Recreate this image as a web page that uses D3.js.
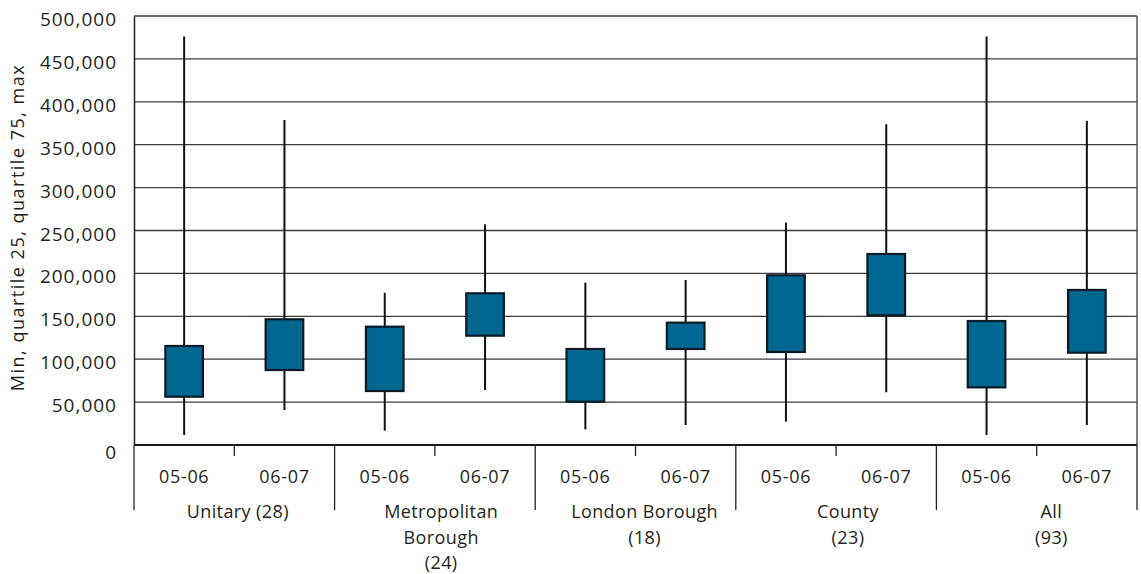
<!DOCTYPE html>
<html>
<head>
<meta charset="utf-8">
<script src="https://cdn.jsdelivr.net/npm/d3@7"></script>
<style>
  html, body { margin: 0; padding: 0; background: #fff; }
  svg { display: block; }
  text { font-family: "Open Sans", "Noto Sans", sans-serif; fill: #231f20; }
</style>
</head>
<body>
<svg id="chart" width="1141" height="574"></svg>
<script>
// ---- data ----
const groups = [["Unitary (28)"], ["Metropolitan", "Borough", "(24)"], ["London Borough", "(18)"], ["County", "(23)"], ["All", "(93)"]];
const years = ["05-06", "06-07"];
const minVals = [11700, 40800, 16700, 64100, 18300, 23300, 27200, 61400, 11700, 23300];
const q25Vals = [56300, 87400, 62900, 127400, 50500, 111900, 108400, 151200, 67200, 107600];
const q75Vals = [115400, 146500, 137900, 176800, 111900, 142600, 197800, 222600, 144500, 180700];
const maxVals = [476000, 378800, 177500, 257200, 189200, 192300, 259100, 373800, 476000, 378000];
const yTicks = [0, 50000, 100000, 150000, 200000, 250000, 300000, 350000, 400000, 450000, 500000];
const yTitle = "Min, quartile 25, quartile 75, max";

// ---- layout ----
const L = 134, R = 1137, T = 16, B = 445;
const svg = d3.select("#chart");

const keys = [];
groups.forEach((g, gi) => years.forEach((yr, yi) => keys.push(gi + "|" + yr)));
const rows = keys.map((k, i) => ({ key: k, g: +k.split("|")[0], year: k.split("|")[1],
  min: minVals[i], q25: q25Vals[i], q75: q75Vals[i], max: maxVals[i] }));

const x = d3.scaleBand().domain(keys).range([L, R]).paddingInner(0).paddingOuter(0);
const xg = d3.scaleBand().domain(groups.map((g, i) => i)).range([L, R]);
const y = d3.scaleLinear().domain([0, 500000]).range([B, T]);

// gridlines
svg.append("g").selectAll("line").data(yTicks.filter(v => v > 0)).join("line")
  .attr("x1", L).attr("x2", R)
  .attr("y1", d => y(d)).attr("y2", d => y(d))
  .attr("stroke", "#3c3c3c").attr("stroke-width", 1.3);

// right border
svg.append("line").attr("x1", R).attr("x2", R).attr("y1", T).attr("y2", B)
  .attr("stroke", "#3c3c3c").attr("stroke-width", 1.3);

// y axis
const yAxis = d3.axisLeft(y).tickValues(yTicks).tickSize(0).tickPadding(17)
  .tickFormat(d3.format(","));
const gy = svg.append("g").attr("transform", `translate(${L},0)`).call(yAxis);
gy.select(".domain").attr("stroke", "#231f20").attr("stroke-width", 1.5);
gy.selectAll("text").attr("font-size", 19).attr("letter-spacing", 1)
  .attr("font-family", '"Open Sans", sans-serif').attr("fill", "#231f20")
  .attr("dy", d => d === 0 ? "0.72em" : "0.5em");

// y title
svg.append("text")
  .attr("transform", `translate(24,${(62 + 393) / 2}) rotate(-90)`)
  .attr("text-anchor", "middle")
  .attr("font-size", 18).attr("letter-spacing", 1.5)
  .text(yTitle);

// whiskers
svg.append("g").selectAll("line").data(rows).join("line")
  .attr("x1", d => x(d.key) + x.bandwidth() / 2)
  .attr("x2", d => x(d.key) + x.bandwidth() / 2)
  .attr("y1", d => y(d.min)).attr("y2", d => y(d.max))
  .attr("stroke", "#111").attr("stroke-width", 2);

// boxes
const bw = x.bandwidth() * 0.375;
svg.append("g").selectAll("rect").data(rows).join("rect")
  .attr("x", d => x(d.key) + x.bandwidth() / 2 - bw / 2)
  .attr("width", bw)
  .attr("y", d => y(d.q75))
  .attr("height", d => y(d.q25) - y(d.q75))
  .attr("fill", "#006791").attr("stroke", "#0b1a26").attr("stroke-width", 2.2);

// x axis line
svg.append("line").attr("x1", L).attr("x2", R).attr("y1", B).attr("y2", B)
  .attr("stroke", "#1a1a1a").attr("stroke-width", 2.2);

// minor ticks (between years)
svg.append("g").selectAll("line").data(groups.map((g, i) => i)).join("line")
  .attr("x1", i => xg(i) + xg.bandwidth() / 2).attr("x2", i => xg(i) + xg.bandwidth() / 2)
  .attr("y1", B).attr("y2", B + 11)
  .attr("stroke", "#231f20").attr("stroke-width", 1.3);

// group boundaries
const bounds = groups.map((g, i) => xg(i)).concat([R]);
svg.append("g").selectAll("line").data(bounds).join("line")
  .attr("x1", d => d).attr("x2", d => d)
  .attr("y1", B).attr("y2", 510)
  .attr("stroke", "#231f20").attr("stroke-width", 1.3);

// year labels
svg.append("g").selectAll("text").data(rows).join("text")
  .attr("x", d => x(d.key) + x.bandwidth() / 2)
  .attr("y", 483)
  .attr("text-anchor", "middle")
  .attr("font-size", 18).attr("letter-spacing", 0.7)
  .text(d => d.year);

// group labels
const gl = svg.append("g").selectAll("text").data(groups).join("text")
  .attr("x", (d, i) => xg(i) + xg.bandwidth() / 2 + 3.5 + 2.8 * i)
  .attr("y", 518)
  .attr("text-anchor", "middle")
  .attr("font-size", 18).attr("letter-spacing", 0.4);
gl.selectAll("tspan").data(d => d).join("tspan")
  .attr("x", function () { return d3.select(this.parentNode).attr("x"); })
  .attr("dy", (d, j) => j === 0 ? 0 : 25.5)
  .text(d => d);
</script>
</body>
</html>
